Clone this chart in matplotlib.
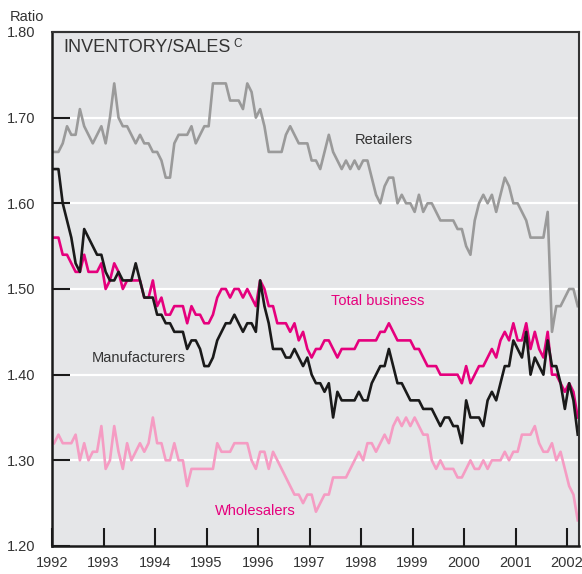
import matplotlib
matplotlib.use("Agg")
import matplotlib.pyplot as plt
from matplotlib import font_manager
import numpy as np

# ---- data (monthly, Jan 1992 onward) ----
retailers = [
    1.66, 1.66, 1.67, 1.69, 1.68, 1.68, 1.71, 1.69, 1.68, 1.67, 1.68, 1.69,
    1.67, 1.70, 1.74, 1.70, 1.69, 1.69, 1.68, 1.67, 1.68, 1.67, 1.67, 1.66,
    1.66, 1.65, 1.63, 1.63, 1.67, 1.68, 1.68, 1.68, 1.69, 1.67, 1.68, 1.69,
    1.69, 1.74, 1.74, 1.74, 1.74, 1.72, 1.72, 1.72, 1.71, 1.74, 1.73, 1.70,
    1.71, 1.69, 1.66, 1.66, 1.66, 1.66, 1.68, 1.69, 1.68, 1.67, 1.67, 1.67,
    1.65, 1.65, 1.64, 1.66, 1.68, 1.66, 1.65, 1.64, 1.65, 1.64, 1.65, 1.64,
    1.65, 1.65, 1.63, 1.61, 1.60, 1.62, 1.63, 1.63, 1.60, 1.61, 1.60, 1.60,
    1.59, 1.61, 1.59, 1.60, 1.60, 1.59, 1.58, 1.58, 1.58, 1.58, 1.57, 1.57,
    1.55, 1.54, 1.58, 1.60, 1.61, 1.60, 1.61, 1.59, 1.61, 1.63, 1.62, 1.60,
    1.60, 1.59, 1.58, 1.56, 1.56, 1.56, 1.56, 1.59, 1.45, 1.48, 1.48, 1.49,
    1.50, 1.50, 1.48,
]
total_business = [
    1.56, 1.56, 1.54, 1.54, 1.53, 1.52, 1.52, 1.54, 1.52, 1.52, 1.52, 1.53,
    1.50, 1.51, 1.53, 1.52, 1.50, 1.51, 1.51, 1.51, 1.51, 1.49, 1.49, 1.51,
    1.48, 1.49, 1.47, 1.47, 1.48, 1.48, 1.48, 1.46, 1.48, 1.47, 1.47, 1.46,
    1.46, 1.47, 1.49, 1.50, 1.50, 1.49, 1.50, 1.50, 1.49, 1.50, 1.49, 1.48,
    1.51, 1.50, 1.48, 1.48, 1.46, 1.46, 1.46, 1.45, 1.46, 1.44, 1.45, 1.43,
    1.42, 1.43, 1.43, 1.44, 1.44, 1.43, 1.42, 1.43, 1.43, 1.43, 1.43, 1.44,
    1.44, 1.44, 1.44, 1.44, 1.45, 1.45, 1.46, 1.45, 1.44, 1.44, 1.44, 1.44,
    1.43, 1.43, 1.42, 1.41, 1.41, 1.41, 1.40, 1.40, 1.40, 1.40, 1.40, 1.39,
    1.41, 1.39, 1.40, 1.41, 1.41, 1.42, 1.43, 1.42, 1.44, 1.45, 1.44, 1.46,
    1.44, 1.44, 1.46, 1.43, 1.45, 1.43, 1.42, 1.45, 1.40, 1.40, 1.39, 1.38,
    1.39, 1.38, 1.35,
]
manufacturers = [
    1.64, 1.64, 1.60, 1.58, 1.56, 1.53, 1.52, 1.57, 1.56, 1.55, 1.54, 1.54,
    1.52, 1.51, 1.51, 1.52, 1.51, 1.51, 1.51, 1.53, 1.51, 1.49, 1.49, 1.49,
    1.47, 1.47, 1.46, 1.46, 1.45, 1.45, 1.45, 1.43, 1.44, 1.44, 1.43, 1.41,
    1.41, 1.42, 1.44, 1.45, 1.46, 1.46, 1.47, 1.46, 1.45, 1.46, 1.46, 1.45,
    1.51, 1.48, 1.46, 1.43, 1.43, 1.43, 1.42, 1.42, 1.43, 1.42, 1.41, 1.42,
    1.40, 1.39, 1.39, 1.38, 1.39, 1.35, 1.38, 1.37, 1.37, 1.37, 1.37, 1.38,
    1.37, 1.37, 1.39, 1.40, 1.41, 1.41, 1.43, 1.41, 1.39, 1.39, 1.38, 1.37,
    1.37, 1.37, 1.36, 1.36, 1.36, 1.35, 1.34, 1.35, 1.35, 1.34, 1.34, 1.32,
    1.37, 1.35, 1.35, 1.35, 1.34, 1.37, 1.38, 1.37, 1.39, 1.41, 1.41, 1.44,
    1.43, 1.42, 1.45, 1.40, 1.42, 1.41, 1.40, 1.44, 1.41, 1.41, 1.39, 1.36,
    1.39, 1.37, 1.33,
]
wholesalers = [
    1.32, 1.33, 1.32, 1.32, 1.32, 1.33, 1.30, 1.32, 1.30, 1.31, 1.31, 1.34,
    1.29, 1.30, 1.34, 1.31, 1.29, 1.32, 1.30, 1.31, 1.32, 1.31, 1.32, 1.35,
    1.32, 1.32, 1.30, 1.30, 1.32, 1.30, 1.30, 1.27, 1.29, 1.29, 1.29, 1.29,
    1.29, 1.29, 1.32, 1.31, 1.31, 1.31, 1.32, 1.32, 1.32, 1.32, 1.30, 1.29,
    1.31, 1.31, 1.29, 1.31, 1.30, 1.29, 1.28, 1.27, 1.26, 1.26, 1.25, 1.26,
    1.26, 1.24, 1.25, 1.26, 1.26, 1.28, 1.28, 1.28, 1.28, 1.29, 1.30, 1.31,
    1.30, 1.32, 1.32, 1.31, 1.32, 1.33, 1.32, 1.34, 1.35, 1.34, 1.35, 1.34,
    1.35, 1.34, 1.33, 1.33, 1.30, 1.29, 1.30, 1.29, 1.29, 1.29, 1.28, 1.28,
    1.29, 1.30, 1.29, 1.29, 1.30, 1.29, 1.30, 1.30, 1.30, 1.31, 1.30, 1.31,
    1.31, 1.33, 1.33, 1.33, 1.34, 1.32, 1.31, 1.31, 1.32, 1.30, 1.31, 1.29,
    1.27, 1.26, 1.23,
]
year_labels = ["1992", "1993", "1994", "1995", "1996", "1997", "1998",
               "1999", "2000", "2001", "2002"]
y_ticks = [1.20, 1.30, 1.40, 1.50, 1.60, 1.70, 1.80]

def months(series):
    return 1992 + (np.arange(len(series)) + 0.5) / 12.0

installed = {f.name for f in font_manager.fontManager.ttflist}
if "Liberation Sans Narrow" in installed:
    NARROW = ["Liberation Sans Narrow", "DejaVu Sans"]
    NSIZE = 12.5
else:
    NARROW = ["Liberation Sans", "DejaVu Sans"]
    NSIZE = 10.5
REG = ["Liberation Sans", "DejaVu Sans"]
BG = "#e5e6e8"
TXT = "#333333"
GRAY = "#9a9a9a"
BLACK = "#1a1a1a"
MAGENTA = "#e5007d"
PINK = "#f59cc3"

fig = plt.figure(figsize=(5.82, 5.74), dpi=100)
ax = fig.add_axes([52 / 582, 1 - 546 / 574, (579 - 52) / 582, (546 - 32) / 574])
ax.set_facecolor(BG)

for yv in y_ticks[1:-1]:
    ax.axhline(yv, color="white", lw=1.6, zorder=1)

lw = 1.9
ax.plot(months(retailers), retailers, color=GRAY, lw=lw, zorder=3)
ax.plot(months(wholesalers), wholesalers, color=PINK, lw=lw, zorder=3)
ax.plot(months(total_business), total_business, color=MAGENTA, lw=lw, zorder=4)
ax.plot(months(manufacturers), manufacturers, color=BLACK, lw=lw, zorder=5)

ax.set_xlim(1992, 2002.233)
ax.set_ylim(1.20, 1.80)

years = [int(y) for y in year_labels]
ax.set_xticks(years)
ax.set_xticklabels(year_labels, fontfamily=NARROW, fontsize=NSIZE, color=TXT)
ax.set_yticks(y_ticks)
ax.set_yticklabels(["%.2f" % v for v in y_ticks], fontfamily=NARROW, fontsize=NSIZE, color=TXT)
ax.tick_params(axis="both", direction="in", length=13, width=1.5, color=BLACK)
ax.tick_params(axis="x", pad=7)
ax.tick_params(axis="y", pad=12)

for side in ["left", "bottom"]:
    ax.spines[side].set_linewidth(1.8)
    ax.spines[side].set_color(BLACK)
for side in ["top", "right"]:
    ax.spines[side].set_linewidth(1.5)
    ax.spines[side].set_color("#333333")
for s in ax.spines.values():
    s.set_zorder(6)

def fx(px):
    return px / 582
def fy(py):
    return 1 - py / 574

fig.text(fx(10), fy(17), "Ratio", fontfamily=NARROW, fontsize=NSIZE, color=TXT,
         ha="left", va="center")
fig.text(fx(63), fy(47), "INVENTORY/SALES", fontfamily=REG, fontsize=13, color=TXT,
         ha="left", va="center")
fig.text(fx(233), fy(44), "C", fontfamily=REG, fontsize=8.5, color=TXT,
         ha="left", va="center")

fig.text(fx(355), fy(140), "Retailers", fontfamily=NARROW, fontsize=NSIZE, color=TXT,
         ha="left", va="center")
fig.text(fx(331), fy(301), "Total business", fontfamily=NARROW, fontsize=NSIZE, color=MAGENTA,
         ha="left", va="center")
fig.text(fx(92), fy(358), "Manufacturers", fontfamily=NARROW, fontsize=NSIZE, color=TXT,
         ha="left", va="center")
fig.text(fx(215), fy(511), "Wholesalers", fontfamily=NARROW, fontsize=NSIZE, color=MAGENTA,
         ha="left", va="center")

fig.savefig("out.png", dpi=100, facecolor="white")
